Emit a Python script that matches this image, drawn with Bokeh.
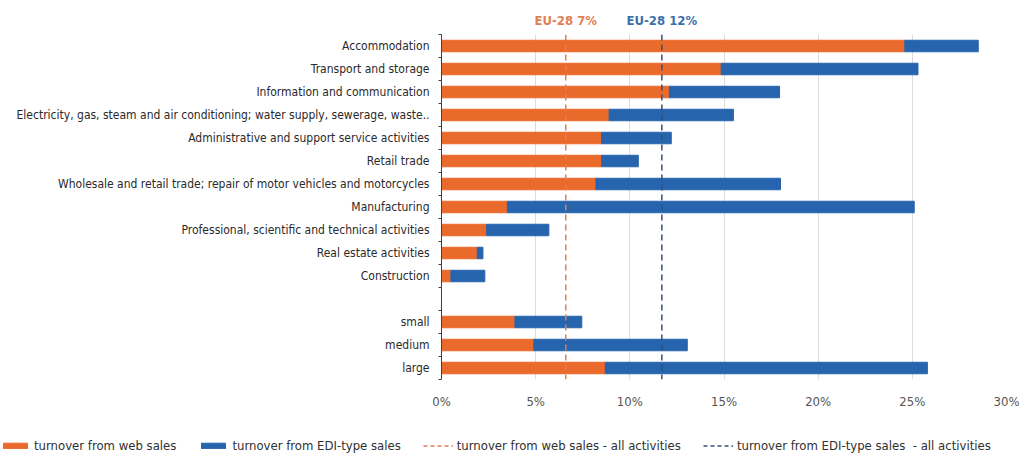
from bokeh.plotting import figure
from bokeh.layouts import column, row
from bokeh.models import Range1d, FixedTicker, Span, Label, Legend, LegendItem, PrintfTickFormatter
from bokeh.embed import file_html
from bokeh.resources import INLINE

categories = [
    "Accommodation",
    "Transport and storage",
    "Information and communication",
    "Electricity, gas, steam and air conditioning; water supply, sewerage, waste..",
    "Administrative and support service activities",
    "Retail trade",
    "Wholesale and retail trade; repair of motor vehicles and motorcycles",
    "Manufacturing",
    "Professional, scientific and technical activities",
    "Real estate activities",
    "Construction",
    "",
    "small",
    "medium",
    "large",
]
web_sales = [24.6, 14.85, 12.1, 8.9, 8.5, 8.5, 8.2, 3.5, 2.4, 1.9, 0.5, 0.0, 3.9, 4.9, 8.7]
edi_sales = [3.9, 10.45, 5.85, 6.6, 3.7, 1.95, 9.8, 21.6, 3.3, 0.3, 1.8, 0.0, 3.55, 8.15, 17.1]
eu_web_all = 6.6
eu_edi_all = 11.7
x_ticks = [0, 5, 10, 15, 20, 25, 30]
legend_labels = [
    "turnover from web sales",
    "turnover from EDI-type sales",
    "turnover from web sales - all activities",
    "turnover from EDI-type sales  - all activities",
]

FONT = "DejaVu Sans Condensed"
ORANGE = "#EA6A2B"
BLUE = "#2764AE"
ORANGE_DASH = "#E07E55"
BLUE_DASH = "#34507A"
LEFT, RIGHT = 441, 13

n = len(categories)
ys = list(range(n))
totals = [w + e for w, e in zip(web_sales, edi_sales)]
x_range = Range1d(x_ticks[0], x_ticks[-1])

# --- top strip with the EU-28 labels
top = figure(width=1019, height=34, output_backend="svg", toolbar_location=None,
             x_range=x_range, y_range=Range1d(0, 1), x_axis_type=None, y_axis_type=None,
             min_border_left=LEFT, min_border_right=RIGHT, min_border_top=0, min_border_bottom=0)
top.outline_line_color = None
top.xgrid.grid_line_color = None
top.ygrid.grid_line_color = None
top.add_layout(Label(x=eu_web_all, y=7, y_units="screen", text=f"EU-28 {round(eu_web_all)}%",
                     text_align="center", text_baseline="bottom", text_color=ORANGE_DASH,
                     text_font=FONT, text_font_size="13px", text_font_style="bold"))
top.add_layout(Label(x=eu_edi_all, y=7, y_units="screen", text=f"EU-28 {round(eu_edi_all)}%",
                     text_align="center", text_baseline="bottom", text_color="#3D6FAA",
                     text_font=FONT, text_font_size="13px", text_font_style="bold"))

# --- main chart
p = figure(width=1019, height=377, output_backend="svg", toolbar_location=None,
           x_range=x_range, y_range=Range1d(n - 0.5, -0.5),
           min_border_left=LEFT, min_border_right=RIGHT, min_border_top=0, min_border_bottom=30)
p.outline_line_color = None

p.hbar(y=ys, left=0, right=web_sales, height=0.5, color=ORANGE)
p.hbar(y=ys, left=web_sales, right=totals, height=0.5, color=BLUE)

p.add_layout(Span(location=eu_web_all, dimension="height", line_color=ORANGE_DASH,
                  line_width=1.5, line_dash="6 4"))
p.add_layout(Span(location=eu_edi_all, dimension="height", line_color=BLUE_DASH,
                  line_width=1.5, line_dash="6 4"))

p.xaxis.ticker = FixedTicker(ticks=x_ticks)
p.xaxis.formatter = PrintfTickFormatter(format="%d%%")
p.xaxis.axis_line_color = None
p.xaxis.major_tick_line_color = None
p.xaxis.minor_tick_line_color = None
p.xaxis.major_label_standoff = 8
p.xaxis.major_label_text_font = FONT
p.xaxis.major_label_text_font_size = "13px"
p.xaxis.major_label_text_color = "#555555"

p.yaxis.ticker = FixedTicker(ticks=ys, minor_ticks=[i - 0.5 for i in range(n + 1)])
p.yaxis.major_label_overrides = {i: c for i, c in enumerate(categories)}
p.yaxis.major_tick_line_color = None
p.yaxis.minor_tick_line_color = "#404040"
p.yaxis.minor_tick_out = 3
p.yaxis.minor_tick_in = 0
p.yaxis.axis_line_color = "#404040"
p.yaxis.major_label_standoff = 6
p.yaxis.major_label_text_font = FONT
p.yaxis.major_label_text_font_size = "12px"
p.yaxis.major_label_text_color = "#2A2A2A"

p.xgrid.ticker = FixedTicker(ticks=x_ticks)
p.xgrid.grid_line_color = "#DCDCDC"
p.ygrid.grid_line_color = None

# --- legend strip (its renderers are hidden; only the legend shows)
lg = figure(width=1019, height=46, output_backend="svg", toolbar_location=None,
            x_range=Range1d(0, 1), y_range=Range1d(0, 1), x_axis_type=None, y_axis_type=None,
            min_border_left=0, min_border_right=0, min_border_top=0, min_border_bottom=0)
lg.outline_line_color = None
lg.xgrid.grid_line_color = None
lg.ygrid.grid_line_color = None
r1 = lg.hbar(y=ys, left=0, right=web_sales, height=0.5, color=ORANGE, visible=False)
r2 = lg.hbar(y=ys, left=web_sales, right=totals, height=0.5, color=BLUE, visible=False)
r3 = lg.line(x=web_sales, y=ys, line_color=ORANGE_DASH, line_width=1.5, line_dash="4 3", visible=False)
r4 = lg.line(x=totals, y=ys, line_color=BLUE_DASH, line_width=1.5, line_dash="4 3", visible=False)
legend = Legend(items=[LegendItem(label=t, renderers=[r]) for t, r in zip(legend_labels, [r1, r2, r3, r4])],
                orientation="horizontal", location=(0, 4), spacing=22, glyph_width=30, glyph_height=7,
                label_text_font=FONT, label_text_font_size="13px", label_text_color="#303030",
                label_standoff=4, border_line_color=None, background_fill_alpha=0, padding=5, margin=0,
                inactive_fill_alpha=0)
lg.add_layout(legend, "center")

layout = column(column(top, p), row(lg))
open("out.html", "w").write(file_html(layout, INLINE))
